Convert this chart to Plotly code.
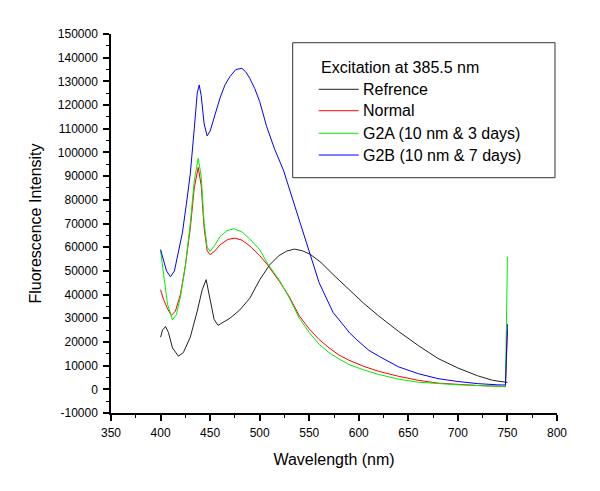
import plotly.graph_objects as go

# ---- data ----
ref_wl = [400, 402, 405, 408, 412, 418, 423, 430, 437, 442, 446, 450, 454, 458, 464, 470, 480,
          490, 500, 510, 519, 527, 535, 543, 551, 562, 574, 590, 605, 620, 640, 660, 680, 700,
          720, 735, 750]
ref_I = [22000, 25000, 26500, 24000, 17500, 14000, 15500, 22000, 33000, 42000, 46300, 38000,
         29500, 27000, 28500, 30000, 33500, 38400, 46200, 52500, 56300, 58300, 59200, 58500,
         57000, 53500, 48500, 42000, 36300, 31000, 24500, 18500, 13000, 9000, 5700, 3800, 2900]

normal_wl = [400, 403, 407, 411, 415, 420, 425, 430, 434, 438, 441, 444, 447, 450, 455, 460, 468,
             475, 482, 490, 500, 508, 520, 530, 540, 550, 560, 570, 580, 590, 605, 620, 640,
             660, 680, 700, 720, 740, 748, 750]
normal_I = [42000, 38000, 34000, 31200, 33000, 40000, 52000, 68000, 85000, 93700, 86000, 68000,
            58500, 56800, 58500, 61000, 63300, 63800, 63000, 60500, 56500, 52500, 45500, 39000,
            31000, 25500, 21000, 17500, 14500, 12300, 9700, 7600, 5500, 3800, 2600, 2000, 1600,
            1300, 1100, 25000]

g2a_wl = [400, 403, 407, 412, 416, 420, 425, 430, 434, 438, 441, 444, 447, 450, 455, 460, 467,
          474, 482, 490, 500, 508, 520, 530, 540, 550, 560, 570, 580, 590, 605, 620, 640, 660,
          680, 700, 720, 740, 748, 750]
g2a_I = [58500, 48000, 36000, 29300, 31500, 39000, 52000, 70000, 88000, 97500, 90000, 70000,
         60000, 58200, 61000, 64500, 67000, 67800, 66500, 63500, 59000, 53000, 46000, 38500,
         30000, 24000, 19000, 15500, 12800, 10500, 8200, 6300, 4300, 3000, 2300, 1900, 1600,
         1300, 1200, 56000]

g2b_wl = [400, 403, 406, 410, 414, 418, 422, 426, 430, 434, 437, 439, 441, 444, 447, 450, 455,
          460, 465, 470, 476, 482, 486, 490, 495, 500, 507, 515, 524, 532, 540, 550, 560, 574,
          591, 598, 610, 621, 640, 660, 680, 700, 720, 740, 748, 750]
g2b_I = [59000, 55000, 50000, 47500, 50000, 58000, 66000, 78000, 91000, 110000, 125000, 128500,
         124000, 112000, 107000, 109000, 116000, 123000, 128500, 132000, 135000, 135500, 134000,
         131300, 127000, 121500, 111000, 101500, 92500, 82000, 71500, 57500, 45000, 32500,
         23700, 20900, 16500, 13800, 9500, 6600, 4500, 3300, 2400, 1900, 1800, 27500]

series_names = ["Refrence", "Normal", "G2A (10 nm & 3 days)", "G2B (10 nm & 7 days)"]
series_colors = ["#222222", "#ff0000", "#00ee00", "#0000ff"]

x_ticks = [350, 400, 450, 500, 550, 600, 650, 700, 750, 800]
y_ticks = [-10000, 0, 10000, 20000, 30000, 40000, 50000, 60000, 70000, 80000, 90000, 100000,
           110000, 120000, 130000, 140000, 150000]
y_tick_text = ["-10000", "0", "10000", "20000", "30000", "40000", "50000", "60000", "70000",
               "80000", "90000", "100000", "110000", "120000", "130000", "140000", "150000"]

legend_title = "Excitation at 385.5 nm"
x_title = "Wavelength (nm)"
y_title = "Fluorescence Intensity"

FONT = "Arial, 'Liberation Sans', sans-serif"

fig = go.Figure()
for wl, I, name, col in zip([ref_wl, normal_wl, g2a_wl, g2b_wl],
                            [ref_I, normal_I, g2a_I, g2b_I],
                            series_names, series_colors):
    fig.add_trace(go.Scatter(x=wl, y=I, mode="lines", name=name, showlegend=False,
                             line=dict(color=col, width=1)))

axis_common = dict(showline=True, linecolor="black", linewidth=1.5, mirror=False,
                   showgrid=False, zeroline=False, ticks="outside", ticklen=6,
                   tickwidth=1.5, tickcolor="black",
                   tickfont=dict(family=FONT, size=12, color="black"),
                   minor=dict(ticks="outside", ticklen=3, tickwidth=1.2, tickcolor="black"))

fig.update_xaxes(range=[350, 800], tickmode="array", tickvals=x_ticks,
                 minor_dtick=25, minor_tick0=375, ticklabelstandoff=2,
                 title=dict(text=x_title, font=dict(family=FONT, size=16, color="black"),
                            standoff=15),
                 **axis_common)
fig.update_yaxes(range=[-10000, 150000], tickmode="array", tickvals=y_ticks,
                 ticktext=y_tick_text, minor_dtick=5000, minor_tick0=-5000,
                 ticklabelstandoff=3,
                 title=dict(text=y_title, font=dict(family=FONT, size=16, color="black"),
                            standoff=12),
                 **axis_common)

# ---- legend box drawn in paper coordinates ----
shapes = [dict(type="rect", xref="paper", yref="paper", x0=0.4074, x1=0.9955, y0=0.6208,
               y1=0.977, line=dict(color="#333333", width=1), fillcolor="white", layer="above")]
annotations = [dict(xref="paper", yref="paper", x=0.4672, y=0.9103, xanchor="left",
                    yanchor="middle", showarrow=False, text=legend_title,
                    font=dict(family=FONT, size=16, color="black"))]
entry_y = [0.8541, 0.7976, 0.7380, 0.6807]
for yy, name, col in zip(entry_y, series_names, series_colors):
    shapes.append(dict(type="line", xref="paper", yref="paper", x0=0.4657, x1=0.5554,
                       y0=yy, y1=yy, line=dict(color=col, width=1), layer="above"))
    annotations.append(dict(xref="paper", yref="paper", x=0.5600, y=yy, xanchor="left",
                            yanchor="middle", showarrow=False, text=name,
                            font=dict(family=FONT, size=16, color="black")))

fig.update_layout(
    width=584, height=475,
    margin=dict(l=103, r=35, t=26, b=70),
    paper_bgcolor="white", plot_bgcolor="white",
    font=dict(family=FONT, color="black"),
    showlegend=False,
    shapes=shapes, annotations=annotations,
)

fig.write_html("out.html")
